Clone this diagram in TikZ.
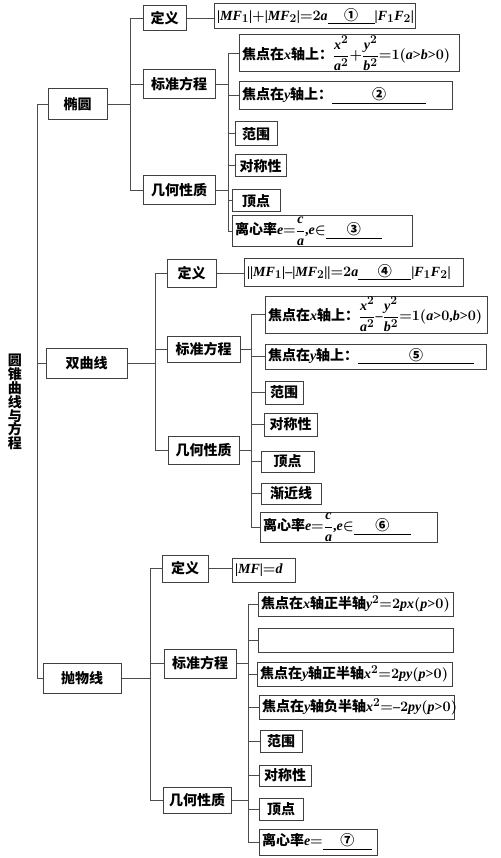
\documentclass[tikz,border=0pt]{standalone}
\usepackage{amsmath}
\usepackage{fontspec}
\setmainfont{Liberation Serif}
\usepackage[italic]{mathastext}
\newfontfamily\cjk{Noto Sans CJK SC}

\begin{document}
\begin{tikzpicture}[x=1pt, y=-1pt,
    box/.style={draw=black!75, line width=1pt, inner sep=1pt,
                font=\boldmath\cjk\bfseries\fontsize{14}{16}\selectfont},
    cat/.style={box, font=\cjk\bfseries\fontsize{14}{16}\selectfont},
    leafw/.style={inner xsep=3pt, text width=#1, align=left},
    link/.style={draw=black!70, line width=1pt}
]
\useasboundingbox (0,0) rectangle (500,858);

% Root
\node[font=\cjk\bfseries\fontsize{14}{13.9}\selectfont, align=center, inner sep=0]
  (root) at (15,402) {圆\\锥\\曲\\线\\与\\方\\程};
\coordinate (spine) at (37,0);

% Ellipse
\node[cat, minimum width=59, minimum height=31] (ty)     at (77.5,104.5) {椭圆};
\node[cat, minimum width=43, minimum height=25] (ty-def) at (164.5,18.5) {定义};
\node[cat, minimum width=72, minimum height=29] (ty-eq)  at (179,84.5)   {标准方程};
\node[cat, minimum width=72, minimum height=29] (ty-geo) at (179,190.5)  {几何性质};
\node[box, leafw=195pt, minimum height=25] (ty-defbox) at (314.5,16.5)
  {$|MF_1|{+}|MF_2|{=}2a$\underline{\makebox[47pt]{①}}$|F_1F_2|$};
\node[box, leafw=214pt, minimum height=37] (ty-x) at (349,53.5)
  {焦点在$x$轴上：$\dfrac{x^2}{a^2}{+}\dfrac{y^2}{b^2}{=}1(a{>}b{>}0)$};
\node[box, leafw=207pt, minimum height=28] (ty-y) at (345.5,96)
  {焦点在$y$轴上：\underline{\makebox[94pt]{②}}};
\node[box, minimum width=42, minimum height=24] (ty-range) at (256,134)   {范围};
\node[box, minimum width=51, minimum height=22] (ty-sym)   at (260.5,166) {对称性};
\node[box, minimum width=48, minimum height=22] (ty-vert)  at (256,201)   {顶点};
\node[box, leafw=174pt, minimum height=31] (ty-ecc)  at (322,231.5)
  {离心率$e{=}\dfrac{c}{a}{,}e{\in}$\underline{\makebox[56pt]{③}}};
\coordinate (ty-bar)  at (130,0);
\coordinate (ty-bar2) at (228,0);

% Hyperbola
\node[cat, minimum width=81, minimum height=30] (sq)     at (86.5,363)   {双曲线};
\node[cat, minimum width=49, minimum height=27] (sq-def) at (191.5,273.5) {定义};
\node[cat, minimum width=73, minimum height=26] (sq-eq)  at (203.5,349)  {标准方程};
\node[cat, minimum width=71, minimum height=28] (sq-geo) at (203.5,450)  {几何性质};
\node[box, leafw=213pt, minimum height=27] (sq-defbox) at (353.5,272.5)
  {$||MF_1|{-}|MF_2||{=}2a$\underline{\makebox[53pt]{④}}$|F_1F_2|$};
\node[box, leafw=216pt, minimum height=37] (sq-x) at (376,314.5)
  {焦点在$x$轴上：$\dfrac{x^2}{a^2}{-}\dfrac{y^2}{b^2}{=}1(a{>}0{,}b{>}0)$};
\node[box, leafw=215pt, minimum height=25] (sq-y) at (375.5,356.5)
  {焦点在$y$轴上：\underline{\makebox[116pt]{⑤}}};
\node[box, minimum width=38, minimum height=23] (sq-range) at (284,392.5)   {范围};
\node[box, minimum width=53, minimum height=23] (sq-sym)   at (290.5,424.5) {对称性};
\node[box, minimum width=53, minimum height=21] (sq-vert)  at (287.5,461.5) {顶点};
\node[box, minimum width=60, minimum height=21] (sq-asym)  at (291,493.5)   {渐近线};
\node[box, leafw=171pt, minimum height=29] (sq-ecc)  at (348.5,527.5)
  {离心率$e{=}\dfrac{c}{a}{,}e{\in}$\underline{\makebox[57pt]{⑥}}};
\coordinate (sq-bar)  at (155,0);
\coordinate (sq-bar2) at (251,0);

% Parabola
\node[cat, minimum width=78, minimum height=30] (pw)     at (82,678)    {抛物线};
\node[cat, minimum width=46, minimum height=27] (pw-def) at (185,568.5) {定义};
\node[cat, minimum width=72, minimum height=29] (pw-eq)  at (200,663.5) {标准方程};
\node[cat, minimum width=68, minimum height=26] (pw-geo) at (197,800)   {几何性质};
\node[box, leafw=57pt, minimum height=24] (pw-defbox) at (263.5,570) {$|MF|{=}d$};
\node[box, leafw=189pt, minimum height=24] (pw-x) at (355.5,604)
  {焦点在$x$轴正半轴$y^2{=}2px(p{>}0)$};
\node[box, minimum width=195, minimum height=24] (pw-blank) at (355.5,640) {};
\node[box, leafw=189pt, minimum height=24] (pw-yp) at (354.5,674)
  {焦点在$y$轴正半轴$x^2{=}2py(p{>}0)$};
\node[box, leafw=189pt, minimum height=24] (pw-yn) at (356.5,707)
  {焦点在$y$轴负半轴$x^2{=}{-}2py(p{>}0)$};
\node[box, minimum width=42, minimum height=22] (pw-range) at (281,741)   {范围};
\node[box, minimum width=52, minimum height=21] (pw-sym)   at (285,775.5) {对称性};
\node[box, minimum width=44, minimum height=22] (pw-vert)  at (281,809)   {顶点};
\node[box, leafw=112pt, minimum height=26] (pw-ecc)  at (318,842)
  {离心率$e{=}$\underline{\makebox[49pt]{⑦}}};
\coordinate (pw-bar)  at (150,0);
\coordinate (pw-bar2) at (248,0);

% Spine
\draw[link] (ty.west) -- (spine |- ty.west) |- (pw.west);
\draw[link] (spine |- sq.west) -- (sq.west);

% Branch connectors
\foreach \c in {ty, sq, pw} {
  \draw[link] (\c.east) -- (\c-bar |- \c.east);
  \draw[link] (\c-def.west) -| (\c-bar |- \c-geo.west) -- (\c-geo.west);
  \draw[link] (\c-bar |- \c-eq.west) -- (\c-eq.west);
  \draw[link] (\c-def.east) -- (\c-def.east -| \c-defbox.west);
  \draw[link] (\c-eq.east) -- (\c-bar2 |- \c-eq.east);
  \draw[link] (\c-geo.east) -- (\c-bar2 |- \c-geo.east);
}
\draw[link] (ty-x.west) -| (ty-bar2 |- ty-ecc.west) -- (ty-ecc.west);
\foreach \n in {ty-y, ty-range, ty-sym, ty-vert}
  \draw[link] (ty-bar2 |- \n.west) -- (\n.west);
\draw[link] (sq-x.west) -| (sq-bar2 |- sq-ecc.west) -- (sq-ecc.west);
\foreach \n in {sq-y, sq-range, sq-sym, sq-vert, sq-asym}
  \draw[link] (sq-bar2 |- \n.west) -- (\n.west);
\draw[link] (pw-x.west) -| (pw-bar2 |- pw-ecc.west) -- (pw-ecc.west);
\foreach \n in {pw-blank, pw-yp, pw-yn, pw-range, pw-sym, pw-vert}
  \draw[link] (pw-bar2 |- \n.west) -- (\n.west);
\end{tikzpicture}
\end{document}
